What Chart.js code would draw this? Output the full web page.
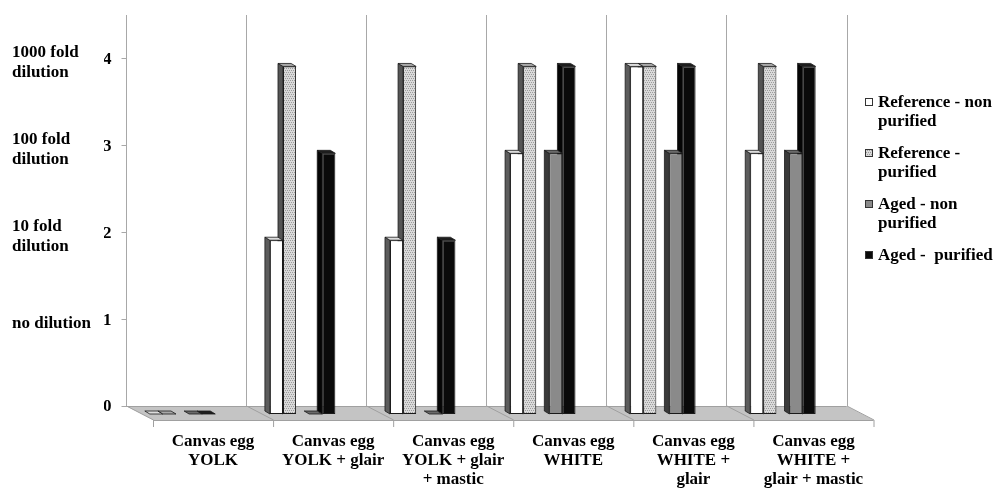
<!DOCTYPE html>
<html>
<head>
<meta charset="utf-8">
<script src="https://cdn.jsdelivr.net/npm/chart.js@4.4.1/dist/chart.umd.min.js"></script>
<style>
  html, body { margin: 0; padding: 0; background: #ffffff; }
  #wrap { width: 995px; height: 488px; }
</style>
</head>
<body>
<div id="wrap"><canvas id="c" width="995" height="488"></canvas></div>
<script>
// Sample groups (x axis), one multi-line label each
const categories = [
  ['Canvas egg', 'YOLK'],
  ['Canvas egg', 'YOLK + glair'],
  ['Canvas egg', 'YOLK + glair', '+ mastic'],
  ['Canvas egg', 'WHITE'],
  ['Canvas egg', 'WHITE +', 'glair'],
  ['Canvas egg', 'WHITE +', 'glair + mastic']
];

// Dilution level reached by each series (0 = none ... 4 = 1000 fold)
const refNonPurified  = [0, 2, 2, 3, 4, 3];
const refPurified     = [0, 4, 4, 4, 4, 4];
const agedNonPurified = [0, 0, 0, 3, 3, 3];
const agedPurified    = [0, 3, 2, 4, 4, 4];

// Series names
const seriesNames = ['Reference - non purified', 'Reference - purified', 'Aged - non purified', 'Aged -  purified'];

// Y tick numbers and the dilution wording beside them
const levelTicks = [0, 1, 2, 3, 4];
const dilutionLabels = ['', 'no dilution', ['10 fold', 'dilution'], ['100 fold', 'dilution'], ['1000 fold', 'dilution']];

const FONT = { family: "'Liberation Serif', 'Times New Roman', serif", size: 17, weight: 'bold' };

// fine dotted fill for the purified reference series
function dottedPattern() {
  const p = document.createElement('canvas');
  p.width = 4; p.height = 4;
  const g = p.getContext('2d');
  g.fillStyle = '#dadada';
  g.fillRect(0, 0, 4, 4);
  g.fillStyle = '#9c9c9c';
  for (let i = 0; i < 4; i++) g.fillRect(i, (i * 2) % 4, 1, 1);
  return g.createPattern(p, 'repeat');
}
const dots = dottedPattern();

// face / side / cap colours per series
const styles = [
  { face: '#ffffff', side: '#5c5c5c', cap: '#dcdcdc' },
  { face: dots,      side: '#555555', cap: '#a8a8a8' },
  { face: '#8a8a8a', side: '#3a3a3a', cap: '#6a6a6a' },
  { face: '#0a0a0a', side: '#050505', cap: '#1e1e1e' }
];

const D = { dx: -5, dy: -3 };          // depth of each column
const BACK = { dx: 3.5, dy: -8 };      // back wall relative to bar plane
const FRONT = { dx: 30.5, dy: 6 };     // front floor edge relative to bar plane

function poly(ctx, pts, fill, stroke, lw) {
  ctx.beginPath();
  ctx.moveTo(pts[0][0], pts[0][1]);
  for (let i = 1; i < pts.length; i++) ctx.lineTo(pts[i][0], pts[i][1]);
  ctx.closePath();
  if (fill) { ctx.fillStyle = fill; ctx.fill(); }
  if (stroke) { ctx.strokeStyle = stroke; ctx.lineWidth = lw || 1; ctx.stroke(); }
}

const scene3d = {
  id: 'scene3d',
  beforeDatasetsDraw(chart) {
    const ctx = chart.ctx;
    const xs = chart.scales.x, ys = chart.scales.y;
    const area = chart.chartArea;
    const n = categories.length;
    const cw = (area.right - area.left) / n;
    const z = ys.getPixelForValue(0);
    ctx.save();

    // floor
    const bl = [area.left + BACK.dx, z + BACK.dy], br = [area.right + BACK.dx, z + BACK.dy];
    const fl = [area.left + FRONT.dx, z + FRONT.dy], fr = [area.right + FRONT.dx, z + FRONT.dy];
    poly(ctx, [bl, br, fr, fl], '#c4c4c4', null);
    ctx.strokeStyle = '#a0a0a0';
    ctx.lineWidth = 1;
    ctx.beginPath();
    for (let i = 0; i <= n; i++) {
      const bx = area.left + i * cw + BACK.dx, fx = area.left + i * cw + FRONT.dx;
      ctx.moveTo(bx + 0.5, z + BACK.dy);
      ctx.lineTo(fx + 0.5, z + FRONT.dy);
      ctx.moveTo(fx + 0.5, z + FRONT.dy);
      ctx.lineTo(fx + 0.5, z + FRONT.dy + 7);
    }
    ctx.moveTo(bl[0], bl[1] + 0.5); ctx.lineTo(br[0], br[1] + 0.5);
    ctx.moveTo(fl[0], fl[1] + 0.5); ctx.lineTo(fr[0], fr[1] + 0.5);
    ctx.stroke();

    // back wall dividers
    ctx.strokeStyle = '#a8a8a8';
    ctx.beginPath();
    for (let i = 0; i <= n; i++) {
      const x = Math.round(area.left + i * cw + BACK.dx) + 0.5;
      ctx.moveTo(x, area.top + BACK.dy);
      ctx.lineTo(x, z + BACK.dy);
    }
    // value ticks on the left wall
    const x0 = Math.round(area.left + BACK.dx) + 0.5;
    levelTicks.forEach(v => {
      const y = Math.round(ys.getPixelForValue(v) + BACK.dy) + 0.5;
      ctx.moveTo(x0 - 5, y);
      ctx.lineTo(x0, y);
    });
    ctx.stroke();

    // column sides, then tops
    const bars = [];
    chart.data.datasets.forEach((ds, di) => {
      if (ds.spacer) return;
      chart.getDatasetMeta(di).data.forEach(el => {
        const p = el.getProps(['x', 'y', 'base', 'width'], true);
        bars.push({ p, st: styles[di > 2 ? di - 1 : di] });
      });
    });
    bars.forEach(({ p, st }) => {
      const l = p.x - p.width / 2, top = Math.min(p.y, p.base), base = p.base;
      if (base - top > 0.5) {
        poly(ctx, [[l, top], [l + D.dx, top + D.dy], [l + D.dx, base + D.dy], [l, base]], st.side, '#1a1a1a', 0.8);
      }
    });
    bars.forEach(({ p, st }) => {
      const l = p.x - p.width / 2, r = p.x + p.width / 2, top = Math.min(p.y, p.base);
      poly(ctx, [[l, top], [r, top], [r + D.dx, top + D.dy], [l + D.dx, top + D.dy]], st.cap, '#1a1a1a', 0.8);
    });
    ctx.restore();
  },
  afterDraw(chart) {
    // legend on the right
    const ctx = chart.ctx;
    const area = chart.chartArea;
    const sx = area.right + 22, tx = sx + 13;
    let y = 102;
    ctx.save();
    ctx.font = `${FONT.weight} ${FONT.size}px ${FONT.family}`;
    ctx.textBaseline = 'middle';
    ctx.textAlign = 'left';
    ctx.fillStyle = '#000';
    seriesNames.forEach((name, i) => {
      const words = name.split(' ');
      const lines = [];
      let cur = '';
      words.forEach(w => {
        const t = cur === '' ? w : cur + ' ' + w;
        if (cur !== '' && w !== '' && ctx.measureText(t).width > 118) { lines.push(cur); cur = w; }
        else cur = t;
      });
      lines.push(cur);
      ctx.fillStyle = styles[i].face;
      ctx.fillRect(sx, y - 4, 8, 8);
      ctx.strokeStyle = '#333';
      ctx.lineWidth = 1;
      ctx.strokeRect(sx + 0.5, y - 3.5, 7, 7);
      ctx.fillStyle = '#000';
      lines.forEach((ln, k) => ctx.fillText(ln, tx, y + k * 19 + 1));
      y += 51;
    });
    ctx.restore();
  }
};

const mk = (label, data, i) => ({
  label, data,
  backgroundColor: styles[i].face,
  borderColor: '#1a1a1a',
  borderWidth: 1,
  borderSkipped: false,
  barPercentage: 1.0,
  categoryPercentage: 0.545
});

new Chart(document.getElementById('c'), {
  type: 'bar',
  data: {
    labels: categories,
    datasets: [
      mk(seriesNames[0], refNonPurified, 0),
      mk(seriesNames[1], refPurified, 1),
      // empty slot separating the reference pair from the aged pair
      { label: '', data: categories.map(() => null), spacer: true, barPercentage: 1.0, categoryPercentage: 0.545 },
      mk(seriesNames[2], agedNonPurified, 2),
      mk(seriesNames[3], agedPurified, 3)
    ]
  },
  options: {
    responsive: false,
    animation: false,
    layout: { padding: { left: 12, right: 152, top: 22.5, bottom: 0 } },
    plugins: { legend: { display: false }, tooltip: { enabled: false } },
    scales: {
      x: {
        grid: { display: false, drawTicks: false },
        border: { display: false },
        ticks: { font: { ...FONT, lineHeight: 19 / 17 }, color: '#000', padding: 18, labelOffset: 30.5, maxRotation: 0, autoSkip: false },
        afterFit(s) { s.height = 74; }
      },
      y: {
        position: 'left', weight: 0, min: 0, max: 4.5,
        grid: { display: false, drawTicks: false },
        border: { display: false },
        ticks: { stepSize: 1, includeBounds: false, font: FONT, color: '#000', padding: 11, labelOffset: -7,
                 callback: v => levelTicks.includes(v) ? String(v) : '' },
        afterFit(s) { s.width = 18.5; }
      },
      yDil: {
        position: 'left', weight: 1, min: 0, max: 4.5,
        grid: { display: false, drawTicks: false },
        border: { display: false },
        ticks: { stepSize: 1, includeBounds: false, font: { ...FONT, lineHeight: 20 / 17 }, color: '#000', crossAlign: 'far', labelOffset: -4,
                 callback: v => levelTicks.includes(v) ? dilutionLabels[v] : '' },
        afterFit(s) { s.width = 92; }
      }
    }
  },
  plugins: [scene3d]
});
</script>
</body>
</html>
